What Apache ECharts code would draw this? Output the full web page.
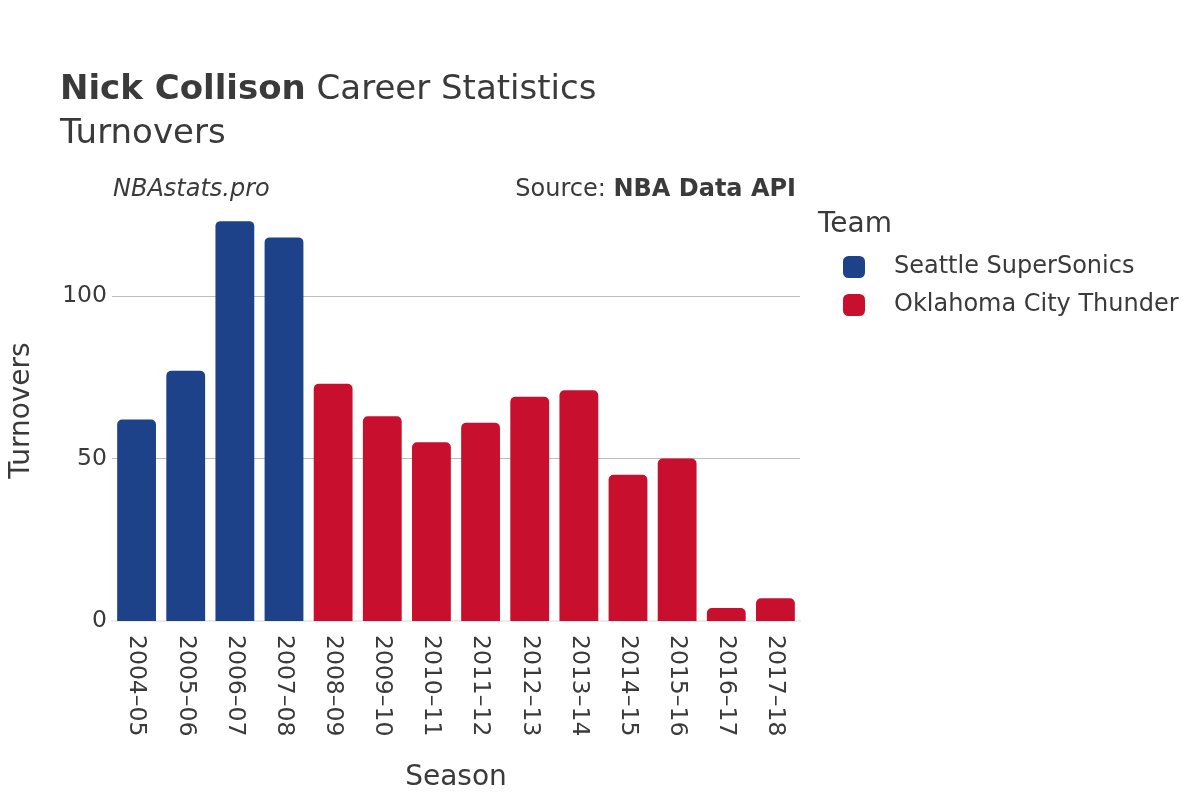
<!DOCTYPE html>
<html>
<head>
<meta charset="utf-8">
<script src="https://cdn.jsdelivr.net/npm/echarts@6/dist/echarts.min.js"></script>
<style>html,body{margin:0;padding:0;background:#fff}#main{width:1200px;height:800px}</style>
</head>
<body>
<div id="main"></div>
<script>
const seasons = ['2004\u201305','2005\u201306','2006\u201307','2007\u201308','2008\u201309','2009\u201310','2010\u201311','2011\u201312','2012\u201313','2013\u201314','2014\u201315','2015\u201316','2016\u201317','2017\u201318'];
const seattleTurnovers = [62, 77, 123, 118, null, null, null, null, null, null, null, null, null, null];
const okcTurnovers = [null, null, null, null, 73, 63, 55, 61, 69, 71, 45, 50, 4, 7];
const teamNames = ['Seattle SuperSonics', 'Oklahoma City Thunder'];
const teamColors = ['#1d428a', '#c8102e'];
const yTicks = [0, 50, 100];

const FONT = 'DejaVu Sans';
const TXT = '#3a3a3a';
const chart = echarts.init(document.getElementById('main'), null, {renderer: 'canvas'});
chart.setOption({
  backgroundColor: '#fff',
  animation: false,
  textStyle: {fontFamily: FONT, color: TXT},
  title: [{
    left: 55, top: 63,
    text: '{b|Nick Collison} Career Statistics\nTurnovers',
    textStyle: {fontFamily: FONT, fontSize: 34, color: TXT, lineHeight: 44, fontWeight: 'normal',
      rich: {b: {fontFamily: FONT, fontSize: 34, fontWeight: 'bold', color: TXT}}}
  }],
  graphic: [
    {type: 'text', left: 113, top: 178, style: {text: 'NBAstats.pro', font: 'italic 24px "DejaVu Sans"', fill: TXT}},
    {type: 'text', right: 404, top: 178, style: {text: '{n|Source: }{b|NBA Data API}', rich: {n: {fontFamily: FONT, fontSize: 24, fill: TXT}, b: {fontFamily: FONT, fontSize: 24, fontWeight: 'bold', fill: TXT}}}},
    {type: 'text', left: 818, top: 211, style: {text: 'Team', font: '28px "DejaVu Sans"', fill: TXT}}
  ],
  legend: {
    orient: 'vertical', left: 838, top: 250,
    itemWidth: 22, itemHeight: 22, itemGap: 14,
    icon: 'roundRect',
    textStyle: {fontFamily: FONT, fontSize: 24, color: TXT, padding: [0, 0, 0, 24]},
    data: teamNames
  },
  grid: {left: 108, right: 400, top: 200, bottom: 179},
  xAxis: {
    type: 'category', data: seasons,
    name: 'Season', nameLocation: 'middle', nameGap: 143,
    nameTextStyle: {fontFamily: FONT, fontSize: 28, color: TXT},
    axisLine: {show: true, lineStyle: {color: '#ebebeb', width: 2}},
    axisTick: {show: false},
    axisLabel: {rotate: -90, fontFamily: FONT, fontSize: 23.5, color: TXT, margin: 14, interval: 0}
  },
  yAxis: {
    type: 'value', min: 0, max: 129.5, interval: 50,
    name: 'Turnovers', nameLocation: 'middle', nameGap: 76,
    nameTextStyle: {fontFamily: FONT, fontSize: 28, color: TXT},
    axisLine: {show: false}, axisTick: {show: false},
    axisLabel: {fontFamily: FONT, fontSize: 23.5, color: TXT, margin: 5, showMaxLabel: false,
      formatter: v => yTicks.includes(v) ? String(v) : ''},
    splitLine: {show: true, showMinLine: false, showMaxLine: false, lineStyle: {color: '#bdbdbd', width: 1}}
  },
  series: [
    {name: teamNames[0], type: 'bar', stack: 't', data: seattleTurnovers, barWidth: '79%',
      itemStyle: {color: teamColors[0], borderRadius: [5, 5, 0, 0]}},
    {name: teamNames[1], type: 'bar', stack: 't', data: okcTurnovers, barWidth: '79%',
      itemStyle: {color: teamColors[1], borderRadius: [5, 5, 0, 0]}}
  ]
});
</script>
</body>
</html>
